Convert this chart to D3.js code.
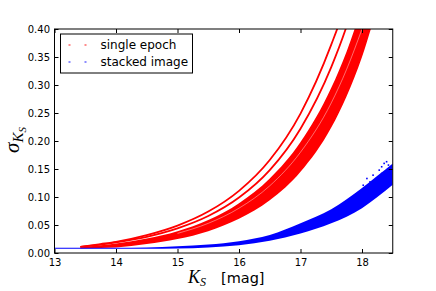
<!DOCTYPE html>
<html>
<head>
<meta charset="utf-8">
<script src="https://cdn.jsdelivr.net/npm/d3@7"></script>
<style>
  body { margin: 0; background: #fff; }
  svg { display: block; }
  .tick text { font-family: "DejaVu Sans", sans-serif; font-size: 10px; fill: #000; }
</style>
</head>
<body>
<div id="chart"></div>
<script>
// single epoch: magnitudes at which the curves are sampled
const redMag = [13.42, 13.75, 14, 14.5, 15, 15.5, 16, 16.5, 17, 17.5, 17.75, 18, 18.25]
// two separated strands above the main band
const redStrandA = [0.011, 0.016, 0.020, 0.032, 0.049, 0.074, 0.111, 0.166, 0.249, 0.372, 0.45, 0.56, 0.68]
const redStrandB = [0.011, 0.015, 0.019, 0.029, 0.044, 0.066, 0.099, 0.148, 0.222, 0.332, 0.405, 0.497, 0.6]
// main band, upper and lower edge
const redUpper = [0.010, 0.014, 0.017, 0.026, 0.039, 0.059, 0.089, 0.133, 0.198, 0.295, 0.36, 0.44, 0.53]
const redLower = [0.008, 0.009, 0.010, 0.016, 0.025, 0.039, 0.061, 0.094, 0.145, 0.224, 0.28, 0.35, 0.44]
// thin empty streak inside the main band
const gapMag = [15, 15.5, 16, 16.5, 17, 17.5, 17.75, 18]
const gapSig = [0.035, 0.053, 0.080, 0.120, 0.180, 0.268, 0.328, 0.40]

// stacked image band
const blueMag = [13, 14, 14.5, 15, 15.5, 16, 16.5, 17, 17.5, 18, 18.25, 18.5]
const blueUpper = [0.0095, 0.0095, 0.010, 0.012, 0.015, 0.021, 0.032, 0.053, 0.078, 0.116, 0.138, 0.160]
const blueLower = [0.0075, 0.0075, 0.0075, 0.008, 0.010, 0.014, 0.022, 0.035, 0.053, 0.080, 0.100, 0.122]
// loose points at the faint end of the stacked band
const blueStrayMag = [18.40, 18.32, 18.18, 18.13, 18.24, 18.02, 18.32, 18.43, 18.08, 18.45, 18.28, 18.36]
const blueStraySig = [0.163, 0.154, 0.139, 0.127, 0.130, 0.121, 0.142, 0.157, 0.133, 0.152, 0.148, 0.160]

const xTicks = [13, 14, 15, 16, 17, 18]
const yTicks = [0, 0.05, 0.10, 0.15, 0.20, 0.25, 0.30, 0.35, 0.40]
const legendLabels = ['single epoch', 'stacked image']

const width = 436
const height = 291
const margin = { top: 29, right: 43.25, bottom: 38, left: 54.5 }
const plotW = width - margin.left - margin.right
const plotH = height - margin.top - margin.bottom

const red = '#ff0000'
const blue = '#0000ff'

const svg = d3.select('#chart').append('svg')
  .attr('width', width)
  .attr('height', height)

const x = d3.scaleLinear().domain([13, 18.5]).range([0, plotW])
const y = d3.scaleLinear().domain([0, 0.40]).range([plotH, 0])

svg.append('defs').append('clipPath').attr('id', 'plotclip')
  .append('rect').attr('width', plotW).attr('height', plotH)

const g = svg.append('g').attr('transform', `translate(${margin.left},${margin.top})`)
const marks = g.append('g').attr('clip-path', 'url(#plotclip)')

// red main band
const redBand = redMag.map((m, i) => ({ m, lo: redLower[i], hi: redUpper[i] }))
marks.append('path')
  .datum(redBand)
  .attr('fill', red)
  .attr('d', d3.area()
    .curve(d3.curveMonotoneX)
    .x(d => x(d.m))
    .y0(d => y(d.lo))
    .y1(d => y(d.hi)))

const sigLine = d3.line().curve(d3.curveMonotoneX).x(d => x(d.m)).y(d => y(d.s))

marks.append('path')
  .datum(gapMag.map((m, i) => ({ m, s: gapSig[i] })))
  .attr('fill', 'none')
  .attr('stroke', '#fff')
  .attr('stroke-opacity', 0.7)
  .attr('stroke-width', 0.6)
  .attr('d', sigLine)

// red strands
;[redStrandA, redStrandB].forEach(strand => {
  marks.append('path')
    .datum(redMag.map((m, i) => ({ m, s: strand[i] })))
    .attr('fill', 'none')
    .attr('stroke', red)
    .attr('stroke-width', 1.8)
    .attr('d', sigLine)
})

// blue band
const blueBand = blueMag.map((m, i) => ({ m, lo: blueLower[i], hi: blueUpper[i] }))
marks.append('path')
  .datum(blueBand)
  .attr('fill', blue)
  .attr('d', d3.area()
    .curve(d3.curveMonotoneX)
    .x(d => x(d.m))
    .y0(d => y(d.lo))
    .y1(d => y(d.hi)))

marks.selectAll('rect.stray')
  .data(blueStrayMag.map((m, i) => ({ m, s: blueStraySig[i] })))
  .enter()
  .append('rect')
  .attr('class', 'stray')
  .attr('x', d => x(d.m) - 0.8)
  .attr('y', d => y(d.s) - 0.8)
  .attr('width', 1.6)
  .attr('height', 1.6)
  .attr('fill', blue)

// axes, ticks pointing inward on all four sides
const axisBottom = d3.axisBottom(x).tickValues(xTicks).tickFormat(d3.format('d')).tickSize(-4).tickPadding(6)
const axisTop = d3.axisTop(x).tickValues(xTicks).tickFormat('').tickSize(-4)
const axisLeft = d3.axisLeft(y).tickValues(yTicks).tickFormat(d3.format('.2f')).tickSize(-4).tickPadding(4.5)
const axisRight = d3.axisRight(y).tickValues(yTicks).tickFormat('').tickSize(-4)

g.append('g').attr('transform', `translate(0,${plotH})`).call(axisBottom)
g.append('g').call(axisTop)
g.append('g').call(axisLeft)
g.append('g').attr('transform', `translate(${plotW},0)`).call(axisRight)

g.selectAll('.domain').remove()
g.selectAll('.tick line').attr('stroke', '#000').attr('stroke-width', 1)

g.append('rect')
  .attr('width', plotW)
  .attr('height', plotH)
  .attr('fill', 'none')
  .attr('stroke', '#000')
  .attr('stroke-width', 1)

// legend
const legend = g.append('g').attr('transform', 'translate(6,5)')
legend.append('rect')
  .attr('width', 132)
  .attr('height', 39)
  .attr('fill', '#fff')
  .attr('stroke', '#000')
  .attr('stroke-width', 1)
const legendColors = ['#ff8c8c', '#8c8cff']
legendLabels.forEach((label, i) => {
  const row = legend.append('g').attr('transform', `translate(0,${11 + i * 17})`)
  ;[9, 25].forEach(px => {
    row.append('rect')
      .attr('x', px - 1).attr('y', -1)
      .attr('width', 2).attr('height', 2)
      .attr('fill', legendColors[i])
  })
  row.append('text')
    .attr('x', 40)
    .attr('dy', '0.35em')
    .attr('font-family', '"DejaVu Sans", sans-serif')
    .attr('font-size', 12)
    .text(label)
})

// axis labels
const xLabel = svg.append('text')
  .attr('x', 188)
  .attr('y', 283)
  .attr('font-family', '"DejaVu Sans", sans-serif')
  .attr('font-size', 14.5)
xLabel.append('tspan').attr('font-family', '"Liberation Serif", serif').attr('font-style', 'italic').attr('font-size', 18).text('K')
xLabel.append('tspan').attr('font-family', '"Liberation Serif", serif').attr('font-style', 'italic').attr('font-size', 12).attr('dy', 3).text('S')
xLabel.append('tspan').attr('x', 221).attr('dy', -3).text('[mag]')

const yLabel = svg.append('text')
  .attr('transform', `translate(19,${margin.top + plotH / 2 - 1}) rotate(-90)`)
  .attr('text-anchor', 'middle')
  .attr('font-family', '"Liberation Serif", serif')
  .attr('font-style', 'italic')
yLabel.append('tspan').attr('font-size', 21).text('σ')
yLabel.append('tspan').attr('font-size', 15).attr('dy', 4).text('K')
yLabel.append('tspan').attr('font-size', 11).attr('dy', 2.5).text('S')
</script>
</body>
</html>
